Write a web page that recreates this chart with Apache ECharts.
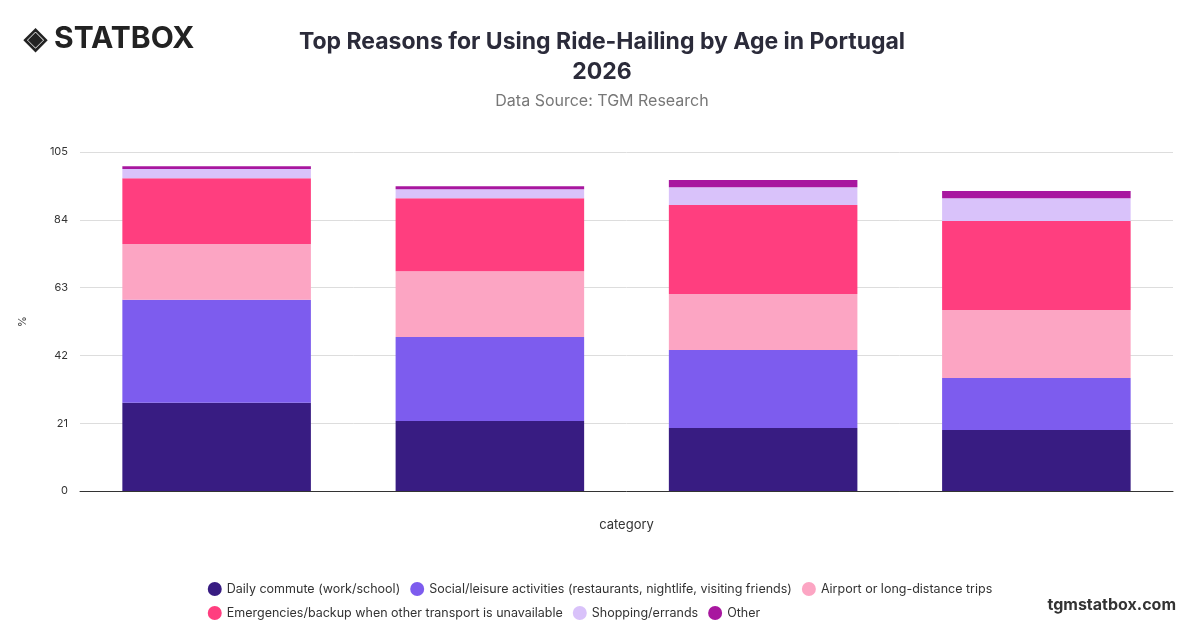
<!DOCTYPE html>
<html>
<head>
<meta charset="utf-8">
<script src="https://cdn.jsdelivr.net/npm/echarts@6/dist/echarts.min.js"></script>
<style>
  html, body { margin: 0; padding: 0; background: #fff; }
  #chart { width: 1200px; height: 628px; }
</style>
</head>
<body>
<div id="chart"></div>
<script>
const categories = ['18-24', '25-34', '35-44', '45+']
const seriesNames = [
  'Daily commute (work/school)',
  'Social/leisure activities (restaurants, nightlife, visiting friends)',
  'Airport or long-distance trips',
  'Emergencies/backup when other transport is unavailable',
  'Shopping/errands',
  'Other'
]
const commute = [27.3, 21.7, 19.5, 18.9]
const social = [31.9, 26.0, 24.2, 16.1]
const airport = [17.3, 20.4, 17.3, 21.1]
const emergency = [20.4, 22.6, 27.6, 27.5]
const shopping = [2.8, 2.8, 5.5, 7.1]
const other = [0.9, 0.9, 2.2, 2.2]
const colors = ['#381c82', '#7d5cee', '#fca5c3', '#ff3e7f', '#d9c2fa', '#a8179f']

const values = [commute, social, airport, emergency, shopping, other]

const myChart = echarts.init(document.getElementById('chart'))
const option = {
  animation: false,
  color: colors,
  title: [{
    text: 'Top Reasons for Using Ride-Hailing by Age in Portugal\n2026',
    left: 597, top: 22, textAlign: 'center',
    textStyle: { fontFamily: 'Inter', fontSize: 23, fontWeight: 'bold', color: '#2b2b3a', lineHeight: 30 },
    subtext: 'Data Source: TGM Research',
    subtextStyle: { fontFamily: 'Inter', fontSize: 16, color: '#777', lineHeight: 20 },
    itemGap: 4
  }],
  graphic: [
    { type: 'text', left: 24, top: 24, style: { text: '◈ STATBOX', font: 'bold 30px Inter', fill: '#222' } },
    { type: 'text', right: 24, top: 597, style: { text: 'tgmstatbox.com', font: 'bold 16px Inter', fill: '#333' } }
  ],
  grid: { left: 80, right: 27, top: 152, bottom: 137 },
  legend: {
    left: 'center', top: 577, width: 800, itemWidth: 14, itemHeight: 14, itemGap: 10,
    icon: 'circle',
    textStyle: { fontFamily: 'Inter', fontSize: 12.5, color: '#333', padding: [0, 8, 0, 0] },
    data: seriesNames
  },
  xAxis: {
    type: 'category', data: categories,
    name: 'category', nameLocation: 'middle', nameGap: 28,
    nameTextStyle: { fontFamily: 'Inter', fontSize: 13, color: '#333' },
    axisLabel: { show: false }, axisTick: { show: false },
    axisLine: { lineStyle: { color: '#333' } }
  },
  yAxis: {
    type: 'value', min: 0, max: 105, interval: 21,
    name: '%', nameLocation: 'middle', nameGap: 52,
    nameTextStyle: { fontFamily: 'Inter', fontSize: 11, color: '#333' },
    axisLabel: { fontFamily: 'Inter', fontSize: 11, color: '#333', margin: 12 },
    splitLine: { lineStyle: { color: '#ddd' } }
  },
  series: seriesNames.map((name, i) => ({
    name, type: 'bar', stack: 'all', barWidth: '69%', data: values[i]
  }))
}
myChart.setOption(option)
</script>
</body>
</html>
